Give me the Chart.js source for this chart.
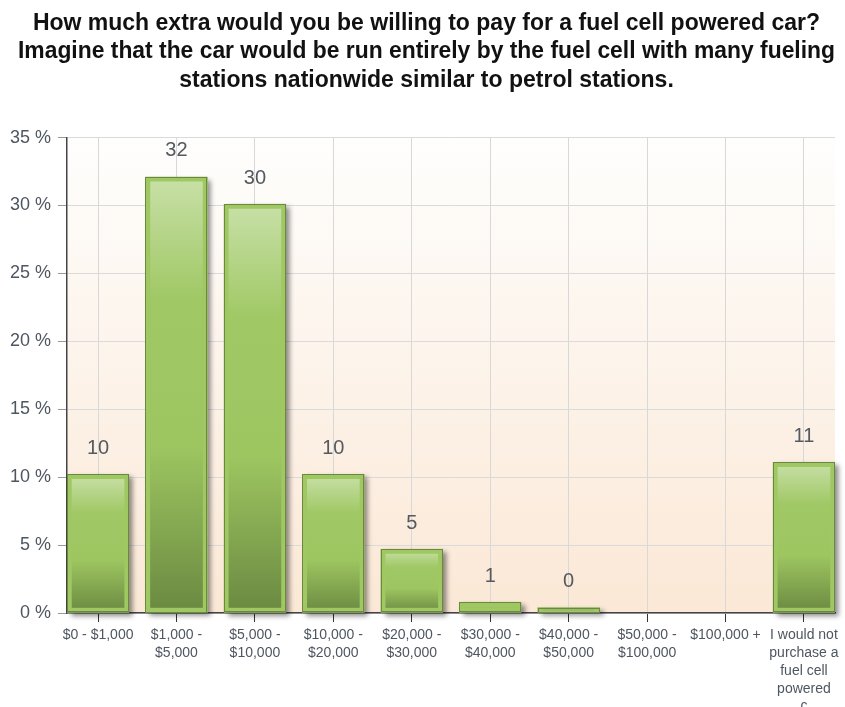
<!DOCTYPE html>
<html>
<head>
<meta charset="utf-8">
<script src="https://cdn.jsdelivr.net/npm/chart.js@4"></script>
<style>
  html, body { margin:0; padding:0; background:#fff; }
  #wrap { width:845px; height:707px; }
</style>
</head>
<body>
<div id="wrap"><canvas id="chart" width="845" height="707"></canvas></div>
<script>
// ================= DATA =================
const titleLines = [
    "How much extra would you be willing to pay for a fuel cell powered car?",
    "Imagine that the car would be run entirely by the fuel cell with many fueling",
    "stations nationwide similar to petrol stations."
];
const categories = [
    ["$0 - $1,000"],
    ["$1,000 -", "$5,000"],
    ["$5,000 -", "$10,000"],
    ["$10,000 -", "$20,000"],
    ["$20,000 -", "$30,000"],
    ["$30,000 -", "$40,000"],
    ["$40,000 -", "$50,000"],
    ["$50,000 -", "$100,000"],
    ["$100,000 +"],
    ["I would not", "purchase a", "fuel cell", "powered", "c"]
];
const percents = [10.2, 32.1, 30.1, 10.2, 4.7, 0.8, 0.4, null, null, 11.1];
const yTicks = [0, 5, 10, 15, 20, 25, 30, 35];

const textColor = '#4e5660';
const fontFamily = '"Liberation Sans", Arial, sans-serif';

// ================= PLUGINS =================
const plotBackground = {
    id:'plotBackground',
    beforeDraw(chart){
        const {ctx, chartArea:a} = chart;
        const g = ctx.createLinearGradient(0, a.top, 0, a.bottom);
        g.addColorStop(0, '#fefefd');
        g.addColorStop(1, '#fbe8d6');
        ctx.save();
        ctx.fillStyle = g;
        ctx.fillRect(a.left, a.top, a.right - a.left, a.bottom - a.top);
        ctx.restore();
    }
};

// title sits a little right of the canvas centre
const titleShift = {
    id:'titleShift',
    afterLayout(chart){
        if(chart.titleBlock) chart.titleBlock.left += 18;
    }
};

// shadow behind each bar
const barShadow = {
    id:'barShadow',
    beforeDatasetsDraw(chart){
        const ctx = chart.ctx;
        ctx.save();
        ctx.shadowColor = 'rgba(0,0,0,0.45)';
        ctx.shadowBlur = 5;
        ctx.shadowOffsetX = 4;
        ctx.shadowOffsetY = 3;
        ctx.fillStyle = '#8a8a7a';
        chart.getDatasetMeta(0).data.forEach((bar, i) => {
            if(percents[i] === null) return;
            const w = bar.width;
            ctx.fillRect(bar.x - w/2, bar.y, w, bar.base - bar.y);
        });
        ctx.restore();
    }
};

// dark outline + value labels
const barDecor = {
    id:'barDecor',
    afterDatasetsDraw(chart){
        const ctx = chart.ctx;
        ctx.save();
        ctx.strokeStyle = '#6a8840';
        ctx.lineWidth = 1;
        ctx.font = '20px ' + fontFamily;
        ctx.fillStyle = '#555a60';
        ctx.textAlign = 'center';
        ctx.textBaseline = 'middle';
        chart.getDatasetMeta(0).data.forEach((bar, i) => {
            if(percents[i] === null) return;
            const w = bar.width;
            ctx.strokeRect(Math.round(bar.x - w/2) + 0.5, Math.round(bar.y) + 0.5, Math.round(w) - 1, Math.round(bar.base - bar.y) - 1);
            ctx.fillText(Math.round(percents[i]), bar.x, bar.y - 26);
        });
        ctx.restore();
    }
};

function barGradient(context){
    const chart = context.chart;
    const v = percents[context.dataIndex];
    if(!chart.chartArea || v === null) return '#9fc762';
    const y = chart.scales.y;
    const top = y.getPixelForValue(v), bottom = y.getPixelForValue(0);
    const g = chart.ctx.createLinearGradient(0, top, 0, bottom);
    g.addColorStop(0, '#c8e0a7');
    g.addColorStop(0.28, '#a0c865');
    g.addColorStop(0.62, '#9dc560');
    g.addColorStop(1, '#6a8941');
    return g;
}

// ================= CHART =================
const ctx = document.getElementById('chart').getContext('2d');
new Chart(ctx, {
    type:'bar',
    data:{
        datasets:[{
            data: percents.map((v, i) => ({x:i, y:v})),
            backgroundColor: barGradient,
            borderColor:'#9fc862',
            borderWidth:5,
            borderSkipped:false,
            barThickness:62
        }]
    },
    options:{
        responsive:false,
        animation:false,
        layout:{padding:{left:0, right:10, top:9, bottom:0}},
        plugins:{
            legend:{display:false},
            tooltip:{enabled:false},
            title:{
                display:true,
                text:titleLines,
                color:'#111',
                font:{family:fontFamily, size:23, weight:'bold', lineHeight:1.24},
                padding:{top:0, bottom:43}
            }
        },
        scales:{
            x:{
                type:'linear',
                min:-0.396,
                max:9.396,
                offset:false,
                afterFit(s){ s.height = 94; },
                ticks:{
                    stepSize:1,
                    includeBounds:false,
                    autoSkip:false,
                    maxRotation:0,
                    padding:4,
                    color:textColor,
                    font:{family:fontFamily, size:14, lineHeight:1.28},
                    callback:(v) => categories[v]
                },
                grid:{offset:false, color:'#d8d8d8', tickColor:'#333', tickLength:9, lineWidth:1},
                border:{color:'#444', width:1.5}
            },
            y:{
                min:0,
                max:35,
                afterFit(s){ s.width = 67; },
                afterBuildTicks(s){ s.ticks = yTicks.map(v => ({value:v})); },
                ticks:{
                    padding:7,
                    color:textColor,
                    font:{family:fontFamily, size:18},
                    callback:(v) => v + ' %'
                },
                grid:{color:'#dadada', tickColor:'#999', tickLength:9, lineWidth:1},
                border:{color:'#444', width:1.5}
            }
        }
    },
    plugins:[plotBackground, titleShift, barShadow, barDecor]
});
</script>
</body>
</html>
